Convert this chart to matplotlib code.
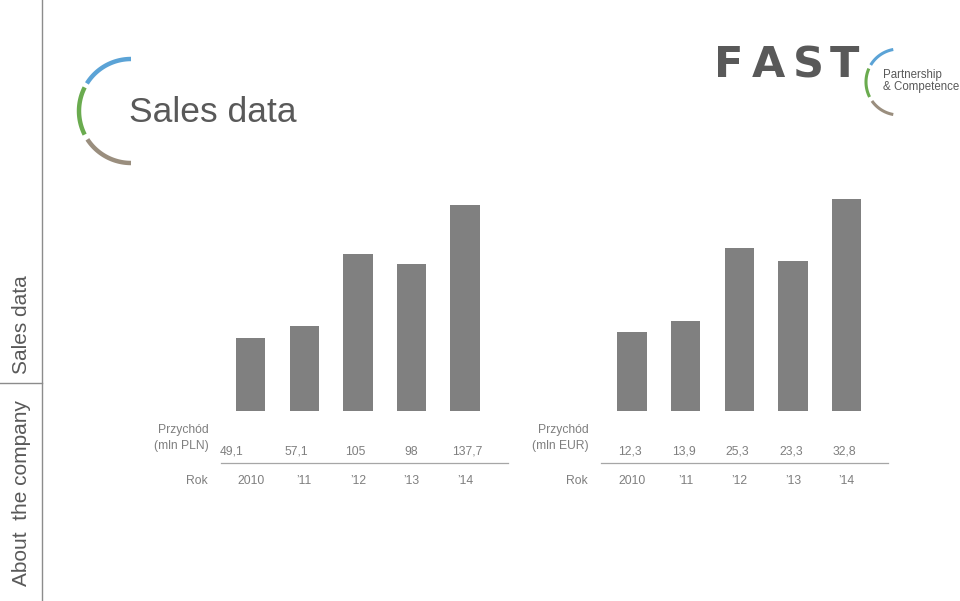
import numpy as np
import matplotlib
matplotlib.use("Agg")
import matplotlib.pyplot as plt
import matplotlib.transforms as mtransforms

plt.rcParams['font.family'] = ['Liberation Sans', 'DejaVu Sans']

# ---- data ----
years = ["2010", "\u201911", "\u201912", "\u201913", "\u201914"]
pln_values = [49.1, 57.1, 105, 98, 137.7]
pln_labels = ["49,1", "57,1", "105", "98", "137,7"]
eur_values = [12.3, 13.9, 25.3, 23.3, 32.8]
eur_labels = ["12,3", "13,9", "25,3", "23,3", "32,8"]

W, H = 960, 601
BAR = "#808080"
TXT = "#7f7f7f"
DARK = "#595959"
BLUE = "#5ba3d6"
GREEN = "#6aab4f"
BROWN = "#9a8e7e"

fig = plt.figure(figsize=(W / 100, H / 100), dpi=100)
ax0 = fig.add_axes([0, 0, 1, 1])
ax0.set_xlim(0, W)
ax0.set_ylim(H, 0)
ax0.axis("off")


def pix_axes(x0, x1, ytop, ybot):
    a = fig.add_axes([x0 / W, 1 - ybot / H, (x1 - x0) / W, (ybot - ytop) / H])
    a.axis("off")
    return a


def arc(cx, cy, r, a0, a1, color, lw):
    t = np.radians(np.linspace(a0, a1, 80))
    ax0.plot(cx + r * np.cos(t), cy - r * np.sin(t), color=color, lw=lw,
             solid_capstyle="butt")


# ---- side bar ----
ax0.plot([42, 42], [0, H], color="#8c8c8c", lw=1.0)
ax0.plot([0, 42], [383, 383], color="#8c8c8c", lw=1.0)
ax0.text(22, 325, "Sales data", rotation=90, ha="center", va="center",
         fontsize=15, color=DARK)
ax0.text(22, 493, "About  the company", rotation=90, ha="center", va="center",
         fontsize=15, color=DARK)

# ---- title with arcs ----
arc(131, 111, 52, 90, 148, BLUE, 3.2)
arc(131, 111, 52, 153, 207, GREEN, 3.2)
arc(131, 111, 52, 213, 270, BROWN, 3.2)
ax0.text(129, 113, "Sales data", ha="left", va="center", fontsize=25.5,
         color=DARK)

# ---- logo ----
for ch, cx in zip("FAST", [729, 768.5, 808.5, 844.5]):
    ax0.text(cx, 65, ch, ha="center", va="center", fontsize=31,
             fontweight="heavy", color=DARK, family=["DejaVu Sans"])
arc(899, 82, 33, 100, 149, BLUE, 2.2)
arc(899, 82, 33, 156, 207, GREEN, 2.2)
arc(899, 82, 33, 215, 260, BROWN, 2.2)
ax0.text(883, 75, "Partnership", ha="left", va="center", fontsize=8.3,
         color=DARK)
ax0.text(883, 87, "& Competence", ha="left", va="center", fontsize=8.3,
         color=DARK)


# ---- charts ----
def chart(x0, x1, px_per_unit, values, labels, unit, lab_x, line_x, dx):
    ax = pix_axes(x0, x1, 190, 411)
    ax.set_xlim(-0.5, len(values) - 0.5)
    ax.set_ylim(0, 221 / px_per_unit)
    xs = np.arange(len(values))
    ax.bar(xs, values, width=0.55, color=BAR)
    tr = mtransforms.blended_transform_factory(ax.transData, ax0.transData)
    for i, (lab, yr) in enumerate(zip(labels, years)):
        off = mtransforms.offset_copy(tr, fig=fig, x=dx[i], y=0, units="dots")
        ax.text(xs[i], 452, lab, transform=off, ha="center", va="center",
                fontsize=8.7, color=TXT, clip_on=False)
        ax.text(xs[i], 481, yr, transform=tr, ha="center", va="center",
                fontsize=8.7, color=TXT, clip_on=False)
    ax0.text(lab_x, 430, "Przychód", ha="right", va="center", fontsize=8.7,
             color=TXT)
    ax0.text(lab_x, 446, f"(mln {unit})", ha="right", va="center",
             fontsize=8.7, color=TXT)
    ax0.text(lab_x - 1, 481, "Rok", ha="right", va="center", fontsize=8.7,
             color=TXT)
    ax0.plot(line_x, [463, 463], color="#a6a6a6", lw=0.9)


chart(223.9, 491.9, 1.496, pln_values, pln_labels, "PLN", 209, [221, 508],
      [-19, -8, -3, 0, 2])
chart(605.4, 873.2, 6.45, eur_values, eur_labels, "EUR", 589, [601, 888],
      [-2, -2, -2, -2, -2])

fig.savefig("out.png", dpi=100)
